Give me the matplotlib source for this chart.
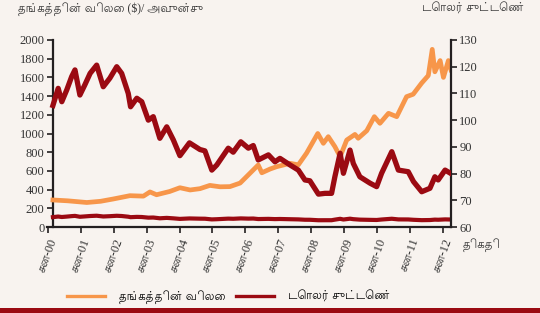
import matplotlib
matplotlib.use("Agg")
import matplotlib.pyplot as plt
from matplotlib.patches import Rectangle
from matplotlib.lines import Line2D

# data (decimal years)
gold_t = [2000.15, 2000.6, 2001.18, 2001.6, 2001.99, 2002.49, 2002.9, 2003.1,
          2003.3, 2003.7, 2004.01, 2004.32, 2004.62, 2004.92, 2005.23, 2005.53,
          2005.84, 2006.04, 2006.39, 2006.5, 2006.75, 2006.95, 2007.36, 2007.61,
          2007.86, 2008.2, 2008.37, 2008.52, 2008.72, 2008.88, 2009.08, 2009.33,
          2009.43, 2009.69, 2009.92, 2010.09, 2010.35, 2010.6, 2010.9, 2011.1,
          2011.36, 2011.56, 2011.68, 2011.76, 2011.92, 2012.02, 2012.17, 2012.25]
gold_price = [289, 280, 262, 275, 300, 335, 330, 375,
              345, 380, 420, 396, 410, 445, 430, 432,
              470, 540, 663, 580, 620, 645, 681, 665,
              790, 1000, 895, 966, 860, 752, 930, 990,
              949, 1030, 1180, 1109, 1216, 1180, 1394, 1420,
              1540, 1620, 1900, 1660, 1780, 1600, 1780, 1680]

usd_t = [2000.15, 2000.31, 2000.42, 2000.57, 2000.72, 2000.82, 2000.97, 2001.12,
         2001.28, 2001.48, 2001.68, 2001.88, 2002.09, 2002.24, 2002.44, 2002.51,
         2002.7, 2002.85, 2003.05, 2003.2, 2003.4, 2003.61, 2003.81, 2004.01,
         2004.3, 2004.62, 2004.77, 2004.98, 2005.13, 2005.48, 2005.63, 2005.86,
         2006.09, 2006.24, 2006.39, 2006.7, 2006.9, 2007.05, 2007.36, 2007.61,
         2007.81, 2007.96, 2008.22, 2008.42, 2008.62, 2008.72, 2008.88, 2008.98,
         2009.18, 2009.28, 2009.48, 2009.79, 2009.99, 2010.14, 2010.45, 2010.65,
         2010.95, 2011.11, 2011.36, 2011.61, 2011.76, 2011.86, 2012.07, 2012.25]
usd_index = [105.5, 111.9, 106.9, 111.3, 116.3, 118.8, 109.4, 113.2,
             117.5, 120.6, 112.5, 115.7, 120.0, 117.5, 110.0, 105.0,
             108.2, 106.9, 100.0, 101.3, 93.2, 97.5, 92.6, 86.7,
             91.5, 89.0, 88.5, 81.3, 83.2, 89.5, 88.0, 91.9,
             89.5, 90.5, 85.1, 87.0, 84.4, 85.7, 83.2, 81.3,
             77.6, 77.3, 72.3, 72.6, 72.6, 78.8, 87.6, 80.1,
             88.8, 83.8, 78.8, 76.4, 75.1, 80.1, 88.2, 81.3,
             80.7, 77.0, 73.2, 74.5, 78.8, 77.6, 81.3, 80.0]

years = list(range(2000, 2013))
year_labels = ["சன-%02d" % (y % 100) for y in years]

GOLD = "#f7964a"
RED = "#9b0a12"
BG = "#f8f3ef"
AXC = "#231f20"

plt.rcParams["font.family"] = ["Liberation Serif", "Lohit Tamil"]

fig = plt.figure(figsize=(5.4, 3.13), dpi=100, facecolor=BG)
ax = fig.add_axes([47 / 540, 1 - 227 / 313, 404 / 540, 187 / 313])
ax.set_facecolor(BG)
ax2 = ax.twinx()

ax.plot(usd_t, usd_index, color=RED, lw=3, zorder=3)
ax.plot(gold_t, gold_price, color=GOLD, lw=3.4, zorder=4)
ax2.plot(usd_t, usd_index, color=RED, lw=3.8, zorder=3)

ax.set_xlim(1999.97, 2012.25)
ax.set_ylim(0, 2000)
ax.set_yticks(range(0, 2001, 200))
ax2.set_ylim(60, 130)
ax2.set_yticks(range(60, 131, 10))
ax.set_xticks(years)
ax.set_xticklabels(year_labels, rotation=70, ha="right", va="top",
                   rotation_mode="anchor")

for a in (ax, ax2):
    a.spines["top"].set_visible(False)
    for s in ("left", "right", "bottom"):
        a.spines[s].set_color(AXC)
        a.spines[s].set_linewidth(1.6)
    a.tick_params(direction="out", length=4, width=1.2, color=AXC,
                  labelsize=9, labelcolor="#333333", pad=2)
ax.spines["right"].set_visible(False)
ax2.spines["left"].set_visible(False)
ax2.spines["bottom"].set_visible(False)
ax.spines["left"].set_position(("data", 2000.15))
ax.tick_params(axis="x", labelsize=8.8, pad=3)

fig.text(18 / 540, 1 - 9 / 313, "தங்கத்தின் விலை ($)/ அவுன்சு",
         fontsize=8.5, color="#333333", va="center", ha="left")
fig.text(525 / 540, 1 - 9 / 313, "டொலர் சுட்டெண்",
         fontsize=8.5, color="#333333", va="center", ha="right")
fig.text(463 / 540, 1 - 245 / 313, "திகதி",
         fontsize=8.5, color="#333333", va="center", ha="left")

handles = [Line2D([], [], color=GOLD, lw=2.4),
           Line2D([], [], color=RED, lw=2.4)]
fig.legend(handles, ["தங்கத்தின் விலை", "டொலர் சுட்டெண்"],
           loc="center", bbox_to_anchor=(229 / 540, 1 - 297 / 313), ncol=2,
           frameon=False, fontsize=8.5, handlelength=3.2, columnspacing=0.85,
           handletextpad=1.2)

fig.patches.append(Rectangle((0, 0), 1, 5 / 313, transform=fig.transFigure,
                             facecolor=RED, edgecolor="none"))

fig.savefig("out.png", dpi=100, facecolor=BG)
